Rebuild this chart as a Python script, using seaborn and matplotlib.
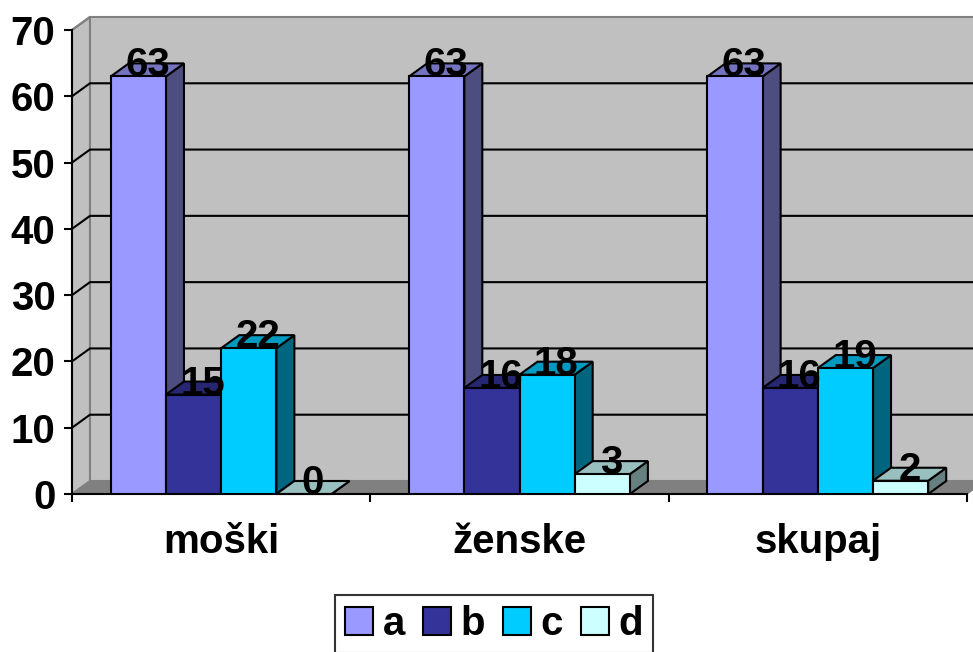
import numpy as np
import pandas as pd
import matplotlib
matplotlib.use("Agg")
import matplotlib.pyplot as plt
from matplotlib.patches import Polygon, Patch
import seaborn as sns

# ── data ──────────────────────────────────────────────────────────────────────
categories = ["moški", "ženske", "skupaj"]
series = ["a", "b", "c", "d"]
val_a = [63, 63, 63]
val_b = [15, 16, 16]
val_c = [22, 18, 19]
val_d = [0, 3, 2]

# ── style (Excel 3-D look) ────────────────────────────────────────────────────
FRONT = ["#9999FF", "#333399", "#00CCFF", "#CCFFFF"]
TOP   = ["#7373BF", "#262673", "#0099BF", "#99BFBF"]
SIDE  = ["#4D4D80", "#1A1A4D", "#006680", "#668080"]
WALL  = "#C0C0C0"
FLOOR = "#808080"

sns.set_style("white")
plt.rcParams.update({
    "font.family": ["Liberation Sans", "DejaVu Sans"],
    "font.weight": "bold",
    "text.color": "black",
    "xtick.color": "black",
    "ytick.color": "black",
    "axes.labelcolor": "black",
})
FS = 29

df = pd.DataFrame({
    "cat": np.repeat(categories, len(series)),
    "grp": series * len(categories),
    "val": np.ravel(np.column_stack([val_a, val_b, val_c, val_d])),
})

fig = plt.figure(figsize=(9.73, 6.52), dpi=100)
ax = fig.add_axes([72 / 973, 158 / 652, 895 / 973, 464 / 652])
ax.set_facecolor("none")

sns.barplot(data=df, x="cat", y="val", hue="grp", palette=FRONT, saturation=1,
            width=0.74, edgecolor="black", linewidth=1.5, legend=False, ax=ax,
            order=categories, hue_order=series)

XMIN, XMAX, YMAX = -0.5, 2.5, 70
ax.set_xlim(XMIN, XMAX)
ax.set_ylim(0, YMAX)

# depth offset (18 px right, 13 px up) in data units
dx = 18 * (XMAX - XMIN) / ax.bbox.width
dy = 13 * YMAX / ax.bbox.height

# walls and floor
ax.add_patch(Polygon([(XMIN, 0), (XMIN + dx, dy), (XMIN + dx, YMAX + dy), (XMIN, YMAX)],
                     facecolor=WALL, edgecolor=FLOOR, lw=1.5, zorder=0, clip_on=False))
ax.add_patch(Polygon([(XMIN + dx, dy), (XMAX + 2 * dx, dy), (XMAX + 2 * dx, YMAX + dy),
                      (XMIN + dx, YMAX + dy)],
                     facecolor=WALL, edgecolor=FLOOR, lw=1.5, zorder=0, clip_on=False))
ax.add_patch(Polygon([(XMIN, 0), (XMAX, 0), (XMAX + dx, dy), (XMIN + dx, dy)],
                     facecolor=FLOOR, edgecolor=FLOOR, lw=1, zorder=0.5, clip_on=False))
for v in range(10, YMAX, 10):
    ax.plot([XMIN, XMIN + dx, XMAX + 2 * dx], [v, v + dy, v + dy],
            color="black", lw=1.5, zorder=0.6, clip_on=False)
ax.plot([XMIN, XMIN + dx], [YMAX, YMAX + dy], color=FLOOR, lw=1.5, zorder=0.6, clip_on=False)

# 3-D faces + value labels
for k, cont in enumerate(ax.containers):
    for bar in cont.patches:
        x0, w, h = bar.get_x(), bar.get_width(), bar.get_height()
        bar.set_zorder(3 + 2 * k)
        top = Polygon([(x0, h), (x0 + w, h), (x0 + w + dx, h + dy), (x0 + dx, h + dy)],
                      facecolor=TOP[k], edgecolor="black", lw=1.5, zorder=2 + 2 * k,
                      clip_on=False)
        side = Polygon([(x0 + w, 0), (x0 + w + dx, dy), (x0 + w + dx, h + dy), (x0 + w, h)],
                       facecolor=SIDE[k], edgecolor="black", lw=1.5, zorder=2 + 2 * k,
                       clip_on=False)
        ax.add_patch(side)
        ax.add_patch(top)
        ax.text(x0 + w / 2 + dx / 2, h, f"{h:g}", ha="center", va="baseline",
                fontsize=FS, fontweight="bold", color="black", zorder=20, clip_on=False)

# axes
sns.despine(ax=ax, top=True, right=True)
for s in ("left", "bottom"):
    ax.spines[s].set_linewidth(1.5)
    ax.spines[s].set_color("black")
    ax.spines[s].set_zorder(1)
ax.set_yticks(range(0, YMAX + 1, 10))
ax.tick_params(axis="y", length=6, width=1.5, pad=6, labelsize=FS, left=True)
ax.set_xticks([-0.5, 0.5, 1.5, 2.5], minor=True)
ax.tick_params(axis="x", which="minor", length=6, width=1.5, bottom=True)
ax.tick_params(axis="x", which="major", length=0, pad=21, labelsize=FS)
ax.set_xlabel("")
ax.set_ylabel("")
for lab in ax.get_xticklabels() + ax.get_yticklabels():
    lab.set_fontweight("bold")

handles = [Patch(facecolor=c, edgecolor="black", lw=1.5) for c in FRONT]
leg = fig.legend(handles, series, loc="upper center", bbox_to_anchor=(0.508, 1 - 595 / 652),
                 ncol=4, fontsize=FS, frameon=True, fancybox=False, edgecolor="black",
                 handlelength=0.68, handleheight=0.68, handletextpad=0.25,
                 columnspacing=0.45, borderpad=0.25, borderaxespad=0)
leg.get_frame().set_linewidth(1.5)
for t in leg.get_texts():
    t.set_fontweight("bold")

fig.savefig("out.png", dpi=100, facecolor="white")
